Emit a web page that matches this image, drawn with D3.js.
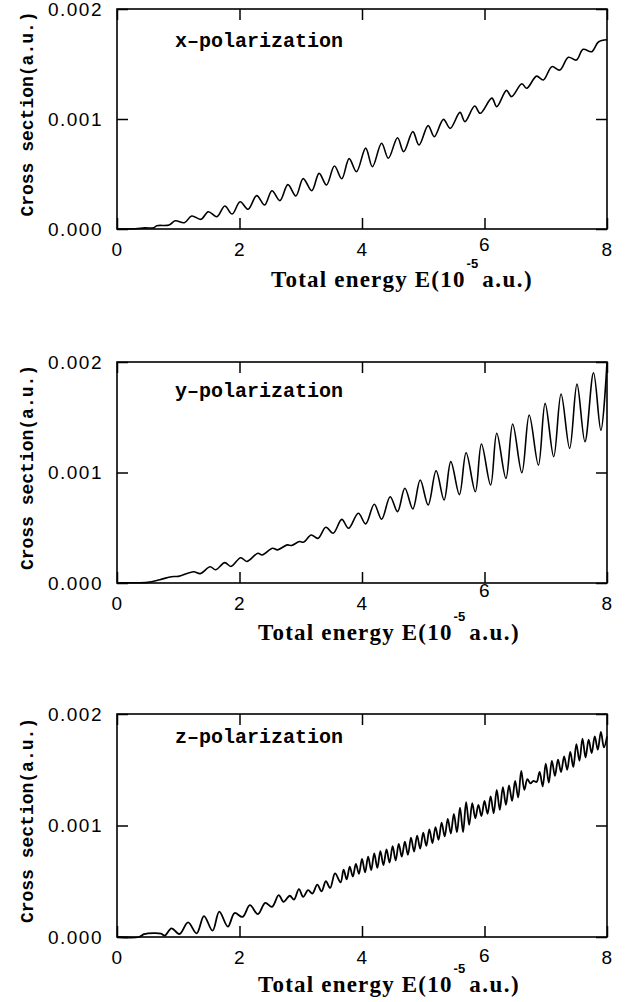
<!DOCTYPE html>
<html lang="en">
<head>
<meta charset="UTF-8">
<title>Cross section vs total energy</title>
<script src="https://cdn.jsdelivr.net/npm/d3@7"></script>
<style>
  body { margin: 0; background: #fff; }
</style>
</head>
<body>
<div id="chart"></div>
<script>
    // energy in units of 1e-5 a.u., cross section in units of 1e-3 a.u.
    var xTicks = [0, 2, 4, 6, 8];
    var yTicks = [0, 1, 2];
    var panelNames = ["x\u2013polarization", "y\u2013polarization", "z\u2013polarization"];

    // x-polarization: [energy, cross section]
    var xPol = [[0,0],[0.3,0.002],[0.45,0.01],[0.6,0.012],[0.65,0.03],[0.85,0.036],[0.95,0.075],[1.1,0.057],
        [1.22,0.118],[1.37,0.088],[1.49,0.157],[1.63,0.112],[1.76,0.209],[1.88,0.136],[2.01,0.248],[2.14,0.179],
        [2.28,0.303],[2.41,0.218],[2.53,0.348],[2.66,0.258],[2.79,0.403],[2.92,0.30],[3.04,0.458],[3.18,0.348],
        [3.30,0.506],[3.42,0.40],[3.55,0.573],[3.67,0.457],[3.79,0.640],[3.91,0.521],[4.06,0.735],[4.17,0.566],
        [4.32,0.78],[4.43,0.643],[4.58,0.83],[4.68,0.703],[4.83,0.885],[4.93,0.764],[5.08,0.94],[5.18,0.839],
        [5.33,0.997],[5.44,0.915],[5.60,1.06],[5.68,0.976],[5.84,1.118],[5.93,1.052],[6.12,1.19],[6.20,1.112],
        [6.36,1.26],[6.44,1.203],[6.61,1.32],[6.69,1.279],[6.85,1.39],[6.96,1.355],[7.10,1.476],[7.23,1.445],
        [7.37,1.561],[7.50,1.536],[7.61,1.633],[7.75,1.612],[7.86,1.70],[8.0,1.72]];

    // y-polarization
    var yPol = [[0,0],[0.2,0.002],[0.5,0.006],[0.7,0.03],[0.89,0.057],[1.0,0.06],[1.25,0.102],[1.36,0.085],
        [1.52,0.147],[1.61,0.12],[1.76,0.184],[1.86,0.15],[2.02,0.229],[2.12,0.195],[2.30,0.269],[2.37,0.254],
        [2.54,0.314],[2.62,0.30],[2.78,0.345],[2.85,0.34],[2.98,0.375],[3.05,0.37],[3.17,0.434],[3.28,0.404],
        [3.41,0.504],[3.53,0.45],[3.67,0.576],[3.78,0.495],[3.94,0.631],[4.06,0.535],[4.20,0.712],[4.32,0.577],
        [4.46,0.781],[4.58,0.646],[4.70,0.857],[4.83,0.67],[4.95,0.932],[5.08,0.706],[5.21,1.016],[5.34,0.751],
        [5.45,1.098],[5.59,0.80],[5.70,1.179],[5.85,0.826],[5.95,1.258],[6.10,0.887],[6.20,1.355],[6.35,0.947],
        [6.46,1.439],[6.61,0.998],[6.73,1.52],[6.88,1.067],[6.99,1.626],[7.13,1.143],[7.25,1.71],[7.39,1.218],
        [7.51,1.80],[7.64,1.279],[7.78,1.903],[7.90,1.382],[8.0,2.0]];

    // z-polarization
    var zPol = [[0,0],[0.36,0],[0.44,0.025],[0.6,0.035],[0.72,0.03],[0.78,0.012],[0.89,0.078],[1.02,0.027],
        [1.16,0.131],[1.30,0.033],[1.42,0.188],[1.56,0.057],[1.67,0.227],[1.81,0.093],[1.92,0.215],[2.05,0.18],
        [2.17,0.285],[2.30,0.205],[2.42,0.305],[2.53,0.27],[2.64,0.375],[2.72,0.315],[2.82,0.37],[2.89,0.335],
        [2.97,0.43],[3.04,0.36],[3.12,0.42],[3.19,0.39],[3.27,0.47],[3.34,0.41],[3.41,0.50],[3.48,0.44],
        [3.56,0.57],[3.65,0.49],[3.70,0.605],[3.75,0.517],[3.80,0.63],[3.85,0.542],[3.90,0.655],[3.95,0.567],
        [4.00,0.70],[4.05,0.58],[4.10,0.72],[4.15,0.60],[4.20,0.75],[4.25,0.62],[4.30,0.77],[4.35,0.645],
        [4.40,0.785],[4.45,0.668],[4.50,0.815],[4.55,0.687],[4.60,0.835],[4.65,0.72],[4.70,0.855],[4.75,0.737],
        [4.80,0.89],[4.85,0.767],[4.90,0.91],[4.95,0.792],[5.00,0.935],[5.05,0.817],[5.10,0.965],[5.15,0.842],
        [5.20,0.985],[5.25,0.872],[5.30,1.025],[5.35,0.902],[5.40,1.06],[5.45,0.928],[5.50,1.105],[5.55,0.94],
        [5.60,1.16],[5.65,0.94],[5.70,1.21],[5.75,1.005],[5.80,1.20],[5.85,1.065],[5.90,1.185],[5.95,1.085],
        [6.00,1.22],[6.05,1.105],[6.10,1.26],[6.15,1.11],[6.20,1.32],[6.25,1.14],[6.30,1.345],[6.35,1.185],
        [6.40,1.36],[6.45,1.22],[6.50,1.40],[6.55,1.25],[6.60,1.49],[6.65,1.32],[6.70,1.415],[6.75,1.378],
        [6.80,1.40],[6.85,1.39],[6.90,1.48],[6.95,1.35],[7.00,1.555],[7.05,1.385],[7.10,1.58],[7.15,1.445],
        [7.20,1.59],[7.25,1.48],[7.30,1.62],[7.35,1.50],[7.40,1.66],[7.45,1.525],[7.50,1.73],[7.55,1.58],
        [7.60,1.78],[7.65,1.61],[7.70,1.77],[7.75,1.65],[7.80,1.80],[7.85,1.68],[7.90,1.84],[7.95,1.70],[8.00,1.80]];

    var series = [xPol, yPol, zPol];

    // layout of the three stacked panels
    var left = 117, right = 607;
    var tops = [9, 362, 714], bottoms = [229, 583, 937];
    var labelY = [47, 397, 743];
    var titleX = [271, 258, 258], titleDy = [58, 57, 55];
    var sixRaise = [5, 14, 2];

    var svg = d3.select("#chart")
        .append("svg")
        .attr("width", 626)
        .attr("height", 1002);

    var x = d3.scaleLinear().domain([0, 8]).range([left, right]);

    series.forEach(function(data, i) {
        var y = d3.scaleLinear().domain([0, 2]).range([bottoms[i], tops[i]]);
        var g = svg.append("g");

        // bottom axis with labels, ticks pointing inward
        var bottomAxis = g.append("g")
            .attr("transform", "translate(0," + bottoms[i] + ")")
            .call(d3.axisBottom(x).tickValues(xTicks).tickSizeInner(-11).tickSizeOuter(0).tickPadding(14));
        bottomAxis.selectAll("text")
            .attr("y", function(d) { return d === 6 ? 14 - sixRaise[i] : 14; });

        g.append("g")
            .attr("transform", "translate(0," + tops[i] + ")")
            .call(d3.axisTop(x).tickValues(xTicks).tickSizeInner(-11).tickSizeOuter(0).tickFormat(""));

        g.append("g")
            .attr("transform", "translate(" + left + ",0)")
            .call(d3.axisLeft(y).tickValues(yTicks).tickSizeInner(-11).tickSizeOuter(0).tickPadding(14)
                .tickFormat(function(d) { return (d / 1000).toFixed(3); }));

        g.append("g")
            .attr("transform", "translate(" + right + ",0)")
            .call(d3.axisRight(y).tickValues(yTicks).tickSizeInner(-11).tickSizeOuter(0).tickFormat(""));

        g.selectAll(".domain").remove();
        g.selectAll(".tick line").attr("stroke", "#000").attr("stroke-width", 1.5);
        g.selectAll(".tick text")
            .attr("font-family", "'Liberation Sans', Arial, sans-serif")
            .attr("font-size", 19)
            .attr("letter-spacing", 1.5)
            .attr("fill", "#000");

        // frame
        g.append("rect")
            .attr("x", left)
            .attr("y", tops[i])
            .attr("width", right - left)
            .attr("height", bottoms[i] - tops[i])
            .attr("fill", "none")
            .attr("stroke", "#000")
            .attr("stroke-width", 1.6);

        // curve
        var line = d3.line()
            .x(function(d) { return x(d[0]); })
            .y(function(d) { return y(d[1]); })
            .curve(d3.curveCatmullRom.alpha(0.5));

        g.append("path")
            .datum(data)
            .attr("d", line)
            .attr("fill", "none")
            .attr("stroke", "#000")
            .attr("stroke-width", i === 2 ? 1.8 : 1.6)
            .attr("stroke-linejoin", "round");

        // panel label
        g.append("text")
            .attr("x", 175)
            .attr("y", labelY[i])
            .attr("font-family", "'Liberation Mono', 'Courier New', monospace")
            .attr("font-weight", "bold")
            .attr("font-size", 20)
            .text(panelNames[i]);

        // y axis title
        g.append("text")
            .attr("transform", "translate(33," + ((tops[i] + bottoms[i]) / 2 - 5) + ") rotate(-90)")
            .attr("text-anchor", "middle")
            .attr("font-family", "'Liberation Mono', 'Courier New', monospace")
            .attr("font-weight", "bold")
            .attr("font-size", 18)
            .text("Cross section(a.u.)");

        // x axis title: main part, superscript exponent, unit placed one after another
        var base = bottoms[i] + titleDy[i];
        var main = g.append("text")
            .attr("x", titleX[i])
            .attr("y", base)
            .attr("font-family", "'Liberation Serif', 'Times New Roman', serif")
            .attr("font-weight", "bold")
            .attr("font-size", 23)
            .attr("letter-spacing", 1.2)
            .text("Total energy E(10");
        var supX = titleX[i] + main.node().getComputedTextLength() + 1;
        var sup = g.append("text")
            .attr("x", supX)
            .attr("y", base - 19)
            .attr("font-family", "'Liberation Sans', Arial, sans-serif")
            .attr("font-weight", "bold")
            .attr("font-size", 13)
            .text("-5");
        g.append("text")
            .attr("x", supX + sup.node().getComputedTextLength() + 4)
            .attr("y", base)
            .attr("font-family", "'Liberation Serif', 'Times New Roman', serif")
            .attr("font-weight", "bold")
            .attr("font-size", 23)
            .attr("letter-spacing", 1.5)
            .text("a.u.)");
    });
</script>
</body>
</html>
